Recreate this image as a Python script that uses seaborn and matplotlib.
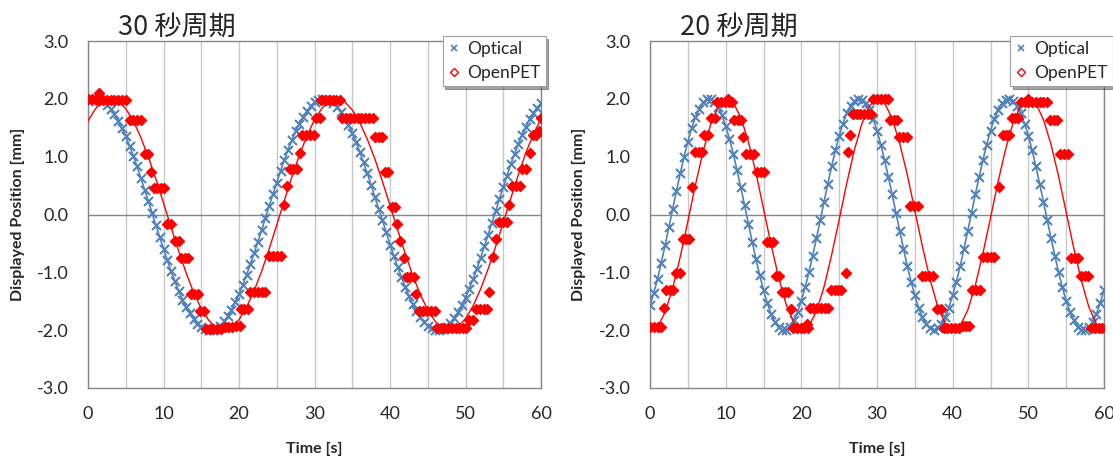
import numpy as np
import pandas as pd
import matplotlib
matplotlib.use('Agg')
import matplotlib.pyplot as plt
from matplotlib.lines import Line2D
from matplotlib.ticker import MultipleLocator, FormatStrFormatter
import seaborn as sns

# ---- data ----
# optical tracker, sampled every 0.5 s
t_opt = np.arange(0, 60.5, 0.5)
opt30 = [1.96, 1.99, 2.00, 1.99, 1.96, 1.90, 1.83, 1.74, 1.62, 1.49,
         1.35, 1.19, 1.01, 0.83, 0.63, 0.43, 0.23, 0.02, -0.19, -0.39,
         -0.59, -0.79, -0.98, -1.15, -1.32, -1.47, -1.60, -1.71, -1.81, -1.89,
         -1.95, -1.98, -2.00, -1.99, -1.97, -1.92, -1.85, -1.76, -1.65, -1.52,
         -1.38, -1.22, -1.05, -0.86, -0.67, -0.47, -0.27, -0.06, 0.15, 0.35,
         0.55, 0.75, 0.94, 1.12, 1.28, 1.44, 1.57, 1.69, 1.79, 1.88,
         1.94, 1.98, 2.00, 2.00, 1.97, 1.93, 1.86, 1.78, 1.67, 1.55,
         1.41, 1.25, 1.08, 0.90, 0.71, 0.51, 0.30, 0.10, -0.10, -0.31,
         -0.52, -0.71, -0.90, -1.08, -1.25, -1.41, -1.55, -1.67, -1.77, -1.86,
         -1.93, -1.97, -2.00, -2.00, -1.98, -1.94, -1.88, -1.79, -1.69, -1.57,
         -1.44, -1.28, -1.12, -0.94, -0.75, -0.55, -0.35, -0.14, 0.06, 0.27,
         0.47, 0.67, 0.87, 1.05, 1.22, 1.38, 1.52, 1.65, 1.76, 1.85,
         1.92]
opt20 = [-1.57, -1.36, -1.11, -0.83, -0.53, -0.22, 0.10, 0.41, 0.71, 1.00,
         1.26, 1.49, 1.68, 1.83, 1.94, 1.99, 2.00, 1.95, 1.86, 1.72,
         1.53, 1.31, 1.05, 0.77, 0.47, 0.16, -0.16, -0.47, -0.77, -1.05,
         -1.31, -1.53, -1.72, -1.86, -1.95, -2.00, -1.99, -1.94, -1.83, -1.68,
         -1.49, -1.26, -1.00, -0.71, -0.41, -0.10, 0.22, 0.53, 0.83, 1.11,
         1.36, 1.57, 1.75, 1.88, 1.96, 2.00, 1.98, 1.92, 1.81, 1.65,
         1.45, 1.21, 0.94, 0.65, 0.35, 0.03, -0.28, -0.59, -0.89, -1.16,
         -1.40, -1.61, -1.78, -1.90, -1.97, -2.00, -1.97, -1.90, -1.78, -1.61,
         -1.40, -1.16, -0.89, -0.59, -0.28, 0.03, 0.35, 0.65, 0.94, 1.21,
         1.45, 1.65, 1.81, 1.92, 1.98, 2.00, 1.96, 1.88, 1.75, 1.57,
         1.36, 1.11, 0.83, 0.53, 0.22, -0.10, -0.41, -0.71, -1.00, -1.26,
         -1.49, -1.68, -1.83, -1.94, -1.99, -2.00, -1.95, -1.86, -1.72, -1.53,
         -1.31]

# thin red curve, every 1 s
t_fit = np.arange(0, 61, 1)
fit30 = [1.62, 1.83, 1.96, 2.00, 1.96, 1.83, 1.62, 1.33, 0.99, 0.61,
         0.20, -0.22, -0.63, -1.01, -1.35, -1.63, -1.83, -1.96, -2.00, -1.95,
         -1.82, -1.60, -1.32, -0.98, -0.59, -0.18, 0.24, 0.65, 1.03, 1.36,
         1.64, 1.84, 1.96, 2.00, 1.95, 1.81, 1.59, 1.30, 0.96, 0.57,
         0.16, -0.26, -0.67, -1.05, -1.38, -1.65, -1.85, -1.97, -2.00, -1.94,
         -1.80, -1.58, -1.29, -0.94, -0.55, -0.14, 0.28, 0.69, 1.07, 1.39,
         1.66]
fit20 = [-2.00, -1.94, -1.69, -1.27, -0.73, -0.12, 0.51, 1.08, 1.55, 1.86,
         2.00, 1.93, 1.68, 1.26, 0.72, 0.10, -0.52, -1.09, -1.56, -1.87,
         -2.00, -1.93, -1.67, -1.25, -0.70, -0.09, 0.54, 1.11, 1.57, 1.88,
         2.00, 1.93, 1.66, 1.23, 0.69, 0.07, -0.55, -1.12, -1.58, -1.88,
         -2.00, -1.92, -1.65, -1.22, -0.67, -0.06, 0.57, 1.13, 1.59, 1.89,
         2.00, 1.92, 1.64, 1.21, 0.66, 0.04, -0.58, -1.14, -1.60, -1.89,
         -2.00]

# OpenPET points (time, position)
pet30 = [(0, 2.00), (0.5, 2.00), (1, 1.98), (1.5, 2.10), (1.5, 1.98), (2, 1.98),
         (2.5, 1.98), (3, 1.98), (3.5, 1.98), (4, 1.98), (4.5, 1.98), (5, 1.98),
         (5.5, 1.63), (6, 1.63), (6.5, 1.63), (7, 1.63),
         (7.5, 1.04), (8, 1.04), (8.4, 0.74),
         (8.7, 0.45), (9.2, 0.45), (9.7, 0.45), (10.1, 0.45),
         (10.4, -0.16), (11.0, -0.16), (11.5, -0.46), (12.0, -0.46),
         (12.3, -0.75), (12.8, -0.75), (13.3, -0.75),
         (13.6, -1.38), (14.1, -1.38), (14.6, -1.38),
         (14.8, -1.67), (15.4, -1.67),
         (15.6, -1.98), (16.1, -1.98), (16.6, -1.98), (17.1, -1.98), (17.6, -1.98),
         (18.1, -1.95), (18.6, -1.95), (19.1, -1.95), (19.6, -1.93), (20.1, -1.93),
         (20.2, -1.63), (20.7, -1.63), (21.2, -1.63),
         (21.5, -1.34), (22.0, -1.34), (22.5, -1.34), (23.0, -1.34), (23.5, -1.34),
         (24.0, -0.72), (24.5, -0.72), (25.0, -0.72), (25.5, -0.72),
         (25.9, 0.17), (26.3, 0.50),
         (26.7, 0.78), (27.2, 0.78), (27.7, 0.78), (28.1, 1.07),
         (28.4, 1.37), (28.9, 1.37), (29.4, 1.37), (29.9, 1.37),
         (30.2, 1.66), (30.7, 1.66),
         (30.9, 1.98), (31.4, 1.98), (31.9, 1.98), (32.4, 1.98), (32.9, 1.98), (33.4, 1.98),
         (33.7, 1.66), (34.2, 1.66), (34.7, 1.66), (35.2, 1.66), (35.7, 1.66),
         (36.2, 1.66), (36.7, 1.66), (37.2, 1.66), (37.7, 1.66),
         (38.0, 1.34), (38.5, 1.34), (39.0, 1.34),
         (39.3, 0.74), (39.8, 0.74), (40.2, 0.13), (40.6, 0.13),
         (40.9, -0.16), (41.3, -0.46), (41.8, -0.75),
         (42.2, -1.08), (42.7, -1.08), (43.2, -1.08), (43.5, -1.38),
         (43.9, -1.67), (44.4, -1.67), (44.9, -1.67), (45.4, -1.67), (45.9, -1.67),
         (46.2, -1.97), (46.7, -1.97), (47.2, -1.97), (47.7, -1.97), (48.2, -1.97),
         (48.7, -1.97), (49.2, -1.97), (49.7, -1.97), (50.1, -1.97),
         (50.5, -1.83), (51.0, -1.83),
         (51.4, -1.63), (51.9, -1.63), (52.4, -1.63), (52.8, -1.63),
         (53.1, -1.34), (53.6, -0.73), (54.1, -0.43),
         (54.5, -0.13), (55.0, -0.13), (55.5, -0.13), (55.8, 0.17),
         (56.2, 0.49), (56.7, 0.49), (57.2, 0.49), (57.5, 0.78), (58.0, 0.78),
         (58.5, 1.07), (58.9, 1.37), (59.4, 1.37), (59.7, 1.44), (60.0, 1.66)]
pet20 = [(0, -1.95), (0.5, -1.95), (1.0, -1.95), (1.5, -1.95), (1.8, -1.61),
         (2.1, -1.31), (2.6, -1.31), (3.1, -1.31), (3.4, -1.02), (3.9, -1.02),
         (4.3, -0.43), (4.8, -0.43), (5.2, -0.43), (5.6, 0.47),
         (6.0, 1.08), (6.5, 1.08), (6.9, 1.08), (7.2, 1.37), (7.7, 1.37),
         (8.1, 1.66), (8.6, 1.66),
         (8.9, 1.95), (9.4, 1.95), (9.9, 1.95), (10.3, 2.00), (10.4, 1.95), (10.9, 1.95),
         (11.1, 1.63), (11.6, 1.63), (12.0, 1.63), (12.3, 1.34),
         (12.7, 1.05), (13.2, 1.05), (13.7, 1.05),
         (14.2, 0.73), (14.7, 0.73), (15.1, 0.73),
         (15.4, -0.47), (15.9, -0.47), (16.3, -0.47),
         (16.6, -1.06), (17.0, -1.06),
         (17.4, -1.34), (17.9, -1.34), (18.3, -1.34), (18.6, -1.64),
         (18.9, -1.96), (19.4, -1.96), (19.9, -1.96), (20.4, -1.96), (20.7, -1.90), (20.9, -1.96),
         (21.1, -1.61), (21.6, -1.61), (22.1, -1.61), (22.6, -1.61), (23.1, -1.61), (23.5, -1.61),
         (23.9, -1.31), (24.4, -1.31), (24.9, -1.31), (25.3, -1.31), (25.9, -1.02),
         (26.2, 1.08), (26.4, 1.37),
         (26.8, 1.73), (27.3, 1.73), (27.8, 1.73), (28.3, 1.73), (28.8, 1.73), (29.2, 1.73),
         (29.5, 2.00), (30.0, 2.00), (30.5, 2.00), (31.0, 2.00), (31.4, 2.00),
         (31.7, 1.63), (32.2, 1.63), (32.6, 1.63),
         (32.9, 1.34), (33.4, 1.34), (33.9, 1.34),
         (34.4, 0.14), (34.9, 0.14), (35.4, 0.14),
         (35.9, -1.06), (36.4, -1.06), (36.9, -1.06), (37.4, -1.06),
         (37.9, -1.64), (38.4, -1.64),
         (38.8, -1.96), (39.3, -1.96), (39.8, -1.96), (40.3, -1.96), (40.8, -1.96),
         (41.3, -1.92), (41.8, -1.92), (42.2, -1.92),
         (42.6, -1.31), (43.1, -1.31), (43.6, -1.31),
         (44.0, -0.73), (44.5, -0.73), (45.0, -0.73), (45.4, -0.73),
         (46.1, 0.47), (46.6, 1.37), (47.1, 1.37), (47.5, 1.37),
         (47.9, 1.66), (48.3, 1.66), (48.7, 1.66),
         (49.0, 1.95), (49.5, 1.95), (50.0, 2.00), (50.0, 1.95), (50.5, 1.95),
         (51.0, 1.95), (51.5, 1.95), (52.0, 1.95), (52.5, 1.95),
         (52.9, 1.63), (53.4, 1.63), (53.8, 1.63),
         (54.2, 1.05), (54.7, 1.05), (55.2, 1.05),
         (55.7, -0.76), (56.2, -0.76), (56.6, -0.76),
         (57.0, -1.06), (57.5, -1.06), (57.9, -1.06),
         (58.3, -1.96), (58.8, -1.96), (59.3, -1.96), (59.8, -1.96)]

titles = ['30 秒周期', '20 秒周期']
BLUE = '#4F81BD'
RED = '#FF0000'
GRAY = '#868686'

sns.set_theme(style='white')
plt.rcParams['font.family'] = ['Lato', 'Noto Sans CJK JP', 'DejaVu Sans']

fig = plt.figure(figsize=(11.13, 4.59), dpi=100)
ax_l = fig.add_axes([88 / 1113, 71 / 459, 453 / 1113, 347 / 459])
ax_r = fig.add_axes([650 / 1113, 71 / 459, 454 / 1113, 347 / 459])

panels = [(ax_l, opt30, fit30, pet30, titles[0], 118, 1.01),
          (ax_r, opt20, fit20, pet20, titles[1], 680, 1.02)]

for ax, opt, fit, pet, title, tx, lx in panels:
    df_opt = pd.DataFrame({'t': t_opt, 'v': opt})
    df_fit = pd.DataFrame({'t': t_fit, 'v': fit})
    df_pet = pd.DataFrame(pet, columns=['t', 'v'])

    ax.axhline(0, color=GRAY, lw=1, zorder=1)
    sns.lineplot(data=df_opt, x='t', y='v', ax=ax, color=BLUE, lw=1.2, zorder=2)
    sns.scatterplot(data=df_opt, x='t', y='v', ax=ax, marker='x', color=BLUE,
                    s=42, linewidth=1.5, zorder=3)
    sns.scatterplot(data=df_pet, x='t', y='v', ax=ax, marker='D', color=RED,
                    edgecolor=RED, s=26, linewidth=1.0, zorder=4)
    sns.lineplot(data=df_fit, x='t', y='v', ax=ax, color=RED, lw=1.0, zorder=5)

    ax.set_xlim(0, 60)
    ax.set_ylim(-3, 3)
    ax.xaxis.set_major_locator(MultipleLocator(10))
    ax.xaxis.set_minor_locator(MultipleLocator(5))
    ax.yaxis.set_major_locator(MultipleLocator(1))
    ax.yaxis.set_major_formatter(FormatStrFormatter('%.1f'))
    ax.grid(True, axis='x', which='both', color='#C8C8C8', lw=1)
    ax.grid(False, axis='y')
    ax.set_axisbelow(True)
    for sp in ax.spines.values():
        sp.set_color(GRAY)
        sp.set_linewidth(1)
    ax.tick_params(axis='x', which='both', length=0, labelsize=13, pad=13)
    ax.tick_params(axis='y', direction='in', length=4, color=GRAY, labelsize=13, pad=14)

    ax.set_xlabel('Time [s]', fontsize=11.5, fontweight='bold')
    ax.set_ylabel('Displayed Position [mm]', fontsize=11.5, fontweight='bold')
    ax.xaxis.set_label_coords(0.5, -0.155)
    ax.yaxis.set_label_coords(-0.14, 0.5)

    fig.text(tx / 1113, 1 - 27 / 459, title, fontsize=19.5, ha='left', va='center',
             family=['Noto Sans CJK JP', 'DejaVu Sans'])

    handles = [Line2D([], [], ls='none', marker='x', color=BLUE, markersize=5, mew=1.2),
               Line2D([], [], ls='none', marker='D', color=RED, markerfacecolor='white',
                      markersize=4, mew=1)]
    leg = ax.legend(handles, ['Optical', 'OpenPET'], loc='upper right',
                    bbox_to_anchor=(lx, 1.015), fontsize=12.5, frameon=True,
                    fancybox=False, shadow=True, borderpad=0.3, labelspacing=0.45,
                    handlelength=0.7, handletextpad=0.4, borderaxespad=0)
    leg.get_frame().set_edgecolor('#A0A0A0')
    leg.get_frame().set_linewidth(0.8)

fig.savefig('out.png', dpi=100)
